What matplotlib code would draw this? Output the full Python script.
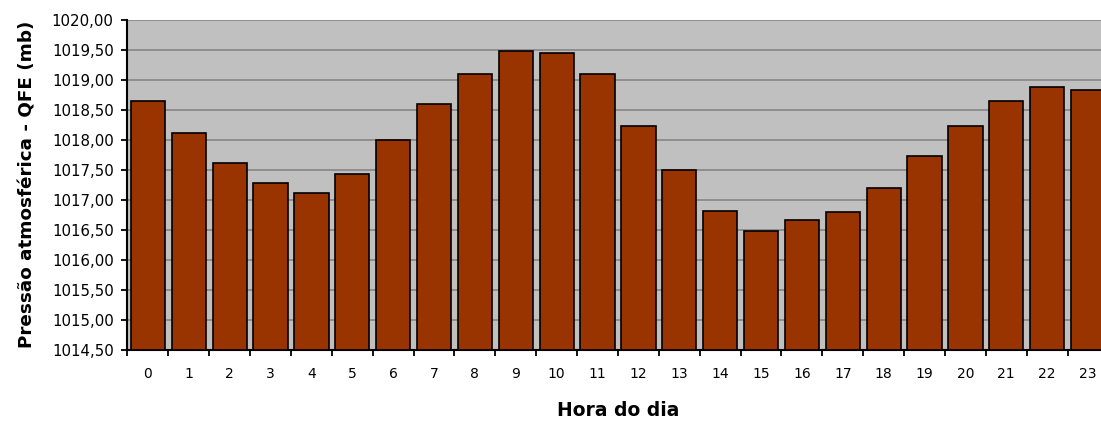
import numpy as np
import matplotlib.pyplot as plt
from matplotlib.ticker import FixedLocator, FuncFormatter

# dados
horas = list(range(24))
pressao = [1018.64, 1018.11, 1017.62, 1017.28, 1017.12, 1017.43, 1018.00, 1018.60,
           1019.10, 1019.48, 1019.44, 1019.10, 1018.22, 1017.50, 1016.82, 1016.48,
           1016.67, 1016.79, 1017.20, 1017.73, 1018.22, 1018.64, 1018.87, 1018.83]
y_ticks = np.arange(1014.5, 1020.01, 0.5)

plt.rcParams['font.family'] = ['DejaVu Sans']

fig = plt.figure(figsize=(11.01, 4.25), dpi=100)
ax = fig.add_axes([0.1158, 0.1765, 0.891, 0.7776])

ax.set_facecolor('#c0c0c0')
ax.bar(horas, [p - 1014.5 for p in pressao], bottom=1014.5, width=0.84,
       color='#993300', edgecolor='black', linewidth=1.2, zorder=3)

ax.set_ylim(1014.5, 1020.0)
ax.set_xlim(-0.5, 23.5)
ax.set_yticks(y_ticks)
ax.yaxis.set_major_formatter(FuncFormatter(lambda v, p: f'{v:.2f}'.replace('.', ',')))
ax.grid(axis='y', color='#8a8a8a', linewidth=1.3, zorder=1)

ax.set_xticks(horas)
ax.set_xticklabels([str(h) for h in horas])
ax.xaxis.set_minor_locator(FixedLocator(np.arange(-0.5, 24, 1)))
ax.tick_params(axis='x', which='major', length=0, pad=12, labelsize=10)
ax.tick_params(axis='x', which='minor', length=4, width=1.3, direction='out')
ax.tick_params(axis='y', length=4, width=1.3, direction='out', pad=6, labelsize=10.8)

for s in ['top', 'right']:
    ax.spines[s].set_visible(False)
ax.spines['left'].set_linewidth(1.5)
ax.spines['bottom'].set_linewidth(1.5)

ax.set_xlabel('Hora do dia', fontsize=13.5, fontweight='bold', labelpad=15)
ax.set_ylabel('Pressão atmosférica - QFE (mb)', fontsize=13.2, fontweight='bold', labelpad=11)

fig.savefig('out.png', dpi=100)
